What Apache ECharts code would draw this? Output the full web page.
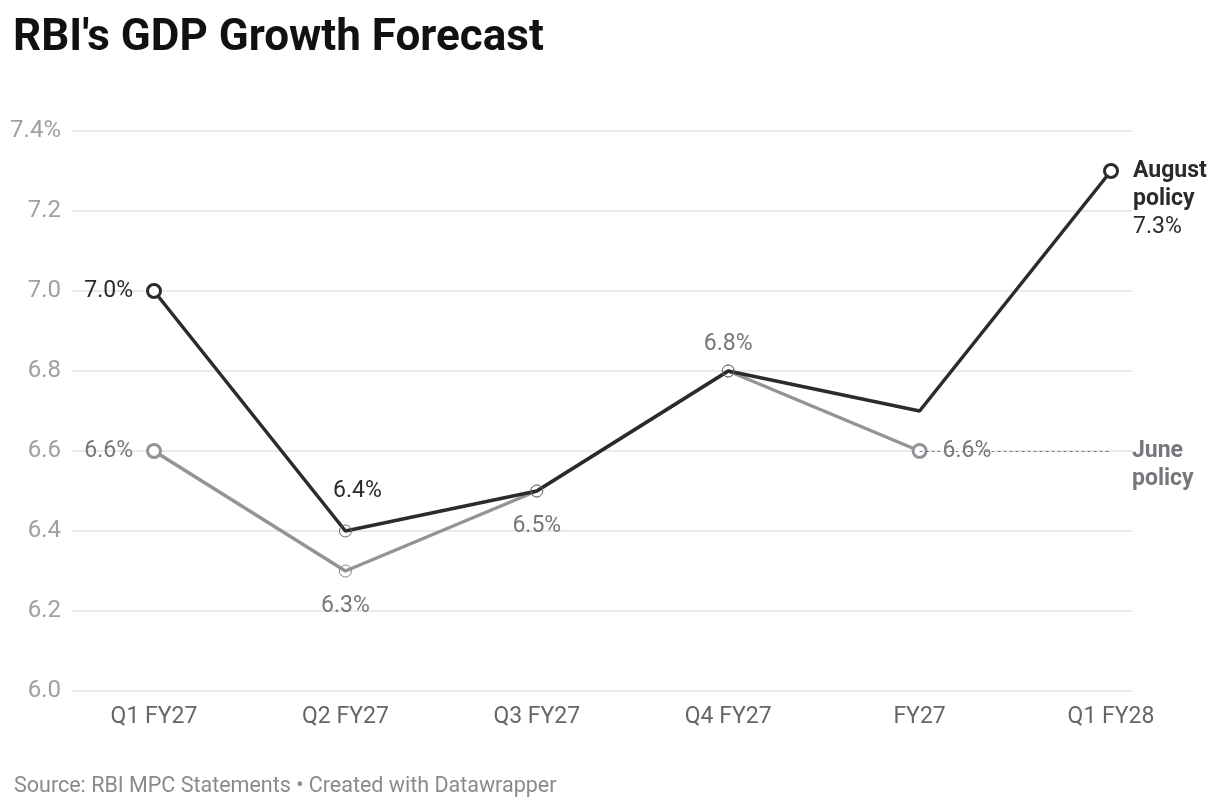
<!DOCTYPE html>
<html>
<head>
<meta charset="utf-8">
<title>RBI's GDP Growth Forecast</title>
<script src="https://cdn.jsdelivr.net/npm/echarts@6/dist/echarts.min.js"></script>
<style>
  html, body { margin: 0; padding: 0; background: #fff; }
  #chart { width: 1220px; height: 808px; }
</style>
</head>
<body>
<div id="chart"></div>
<script>
// data
var categories = ['Q1 FY27', 'Q2 FY27', 'Q3 FY27', 'Q4 FY27', 'FY27', 'Q1 FY28'];
var augustValues = [7.0, 6.4, 6.5, 6.8, 6.7, 7.3];
var juneValues = [6.6, 6.3, 6.5, 6.8, 6.6, null];
var yTicks = { min: 6.0, max: 7.4, step: 0.2 };

var DARK = '#2b2b2b';
var GREY = '#919599';
var GREY_TEXT = '#74787c';
var FONT = 'Roboto, "Noto Sans", sans-serif';
var LABEL_SIZE = 23;

var chart = echarts.init(document.getElementById('chart'), null, { renderer: 'canvas' });

function bigMarker(color) {
  return { symbol: 'circle', symbolSize: 13, itemStyle: { color: '#fff', borderColor: color, borderWidth: 3 } };
}
function smallMarker(color) {
  return { symbol: 'circle', symbolSize: 12, itemStyle: { color: 'rgba(255,255,255,0)', borderColor: color, borderWidth: 1 } };
}
function noMarker() {
  return { symbol: 'none', symbolSize: 0 };
}
function pct(v) { return v.toFixed(1) + '%'; }

// August policy points
var augustData = augustValues.map(function (v, i) {
  var d = { value: v };
  if (i === 0) {
    Object.assign(d, bigMarker(DARK));
    d.label = { show: true, position: 'left', distance: 13, color: DARK, formatter: pct(v) };
  } else if (i === 1) {
    Object.assign(d, smallMarker('#666'));
    d.label = { show: true, position: 'top', distance: 22, offset: [12, 0], color: DARK, formatter: pct(v) };
  } else if (i === 2 || i === 3) {
    Object.assign(d, smallMarker('#777'));
  } else if (i === 4) {
    Object.assign(d, noMarker());
  } else {
    Object.assign(d, bigMarker(DARK));
    d.label = {
      show: true, position: 'right', distance: 14, offset: [0, 28],
      formatter: '{b|August}\n{b|policy}\n{n|' + pct(v) + '}',
      rich: {
        b: { fontFamily: FONT, fontSize: LABEL_SIZE, fontWeight: 'bold', color: DARK, lineHeight: 28 },
        n: { fontFamily: FONT, fontSize: LABEL_SIZE, color: DARK, lineHeight: 28 }
      }
    };
  }
  return d;
});

// June policy points
var juneData = juneValues.map(function (v, i) {
  if (v === null) return { value: null };
  var d = { value: v };
  if (i === 0) {
    Object.assign(d, bigMarker(GREY));
    d.label = { show: true, position: 'left', distance: 13, formatter: pct(v) };
  } else if (i === 1) {
    Object.assign(d, smallMarker('#888'));
    d.label = { show: true, position: 'bottom', distance: 17, formatter: pct(v) };
  } else if (i === 2) {
    Object.assign(d, smallMarker('#888'));
    d.label = { show: true, position: 'bottom', distance: 17, formatter: pct(v) };
  } else if (i === 3) {
    Object.assign(d, smallMarker('#888'));
    d.label = { show: true, position: 'top', distance: 9, formatter: pct(v) };
  } else {
    Object.assign(d, bigMarker(GREY));
    d.label = {
      show: true, position: 'right', distance: 13, formatter: pct(v),
      backgroundColor: '#fff', padding: [2, 4, 2, 2]
    };
  }
  return d;
});

var option = {
  animation: false,
  backgroundColor: '#ffffff',
  textStyle: { fontFamily: FONT },
  title: [
    {
      text: "RBI's GDP Growth Forecast",
      left: 8, top: 12,
      textStyle: { fontFamily: FONT, fontSize: 44, fontWeight: 'bold', color: '#111' }
    },
    {
      text: 'Source: RBI MPC Statements \u2022 Created with Datawrapper',
      left: 9, top: 771,
      textStyle: { fontFamily: FONT, fontSize: 21.5, fontWeight: 'normal', color: '#8a8a8a' }
    }
  ],
  grid: [
    { left: 72, right: 88, top: 131, bottom: 117 },
    { left: 58.3, right: 13.3, top: 131, bottom: 117 }
  ],
  xAxis: [
    { gridIndex: 0, type: 'value', min: 0, max: 1, show: false },
    {
      gridIndex: 1, type: 'category', data: categories, boundaryGap: true,
      axisLine: { show: false }, axisTick: { show: false },
      axisLabel: { margin: 15, fontFamily: FONT, fontSize: 23, color: '#666' }
    }
  ],
  yAxis: [
    {
      gridIndex: 0, type: 'value', min: yTicks.min, max: yTicks.max, interval: yTicks.step,
      axisLine: { show: false }, axisTick: { show: false },
      splitLine: { lineStyle: { color: '#e3e3e3', width: 1.5 } },
      axisLabel: {
        margin: 11, fontFamily: FONT, fontSize: 24, color: '#a0a0a0',
        formatter: function (v) {
          return Math.abs(v - yTicks.max) < 1e-9 ? v.toFixed(1) + '%' : v.toFixed(1);
        }
      }
    },
    {
      gridIndex: 1, type: 'value', min: yTicks.min, max: yTicks.max, interval: yTicks.step,
      show: false, splitLine: { show: false }
    }
  ],
  series: [
    {
      name: 'June policy', type: 'line', xAxisIndex: 1, yAxisIndex: 1,
      data: juneData,
      z: 2,
      showAllSymbol: true,
      lineStyle: { color: GREY, width: 3.5 },
      itemStyle: { color: GREY },
      label: { fontFamily: FONT, fontSize: LABEL_SIZE, color: GREY_TEXT },
      markLine: {
        silent: true, symbol: 'none',
        lineStyle: { color: '#7a7a7a', width: 1, type: [3, 3] },
        label: {
          show: true, position: 'end', distance: 21,
          formatter: ' \nJune\npolicy',
          fontFamily: FONT, fontSize: LABEL_SIZE, fontWeight: 'bold', color: GREY_TEXT,
          lineHeight: 28, align: 'left'
        },
        data: [[{ coord: ['FY27', 6.6] }, { coord: ['Q1 FY28', 6.6] }]]
      }
    },
    {
      name: 'August policy', type: 'line', xAxisIndex: 1, yAxisIndex: 1,
      data: augustData,
      z: 3,
      showAllSymbol: true,
      lineStyle: { color: DARK, width: 3.5 },
      itemStyle: { color: DARK },
      label: { fontFamily: FONT, fontSize: LABEL_SIZE, color: DARK }
    }
  ]
};

chart.setOption(option);
</script>
</body>
</html>
